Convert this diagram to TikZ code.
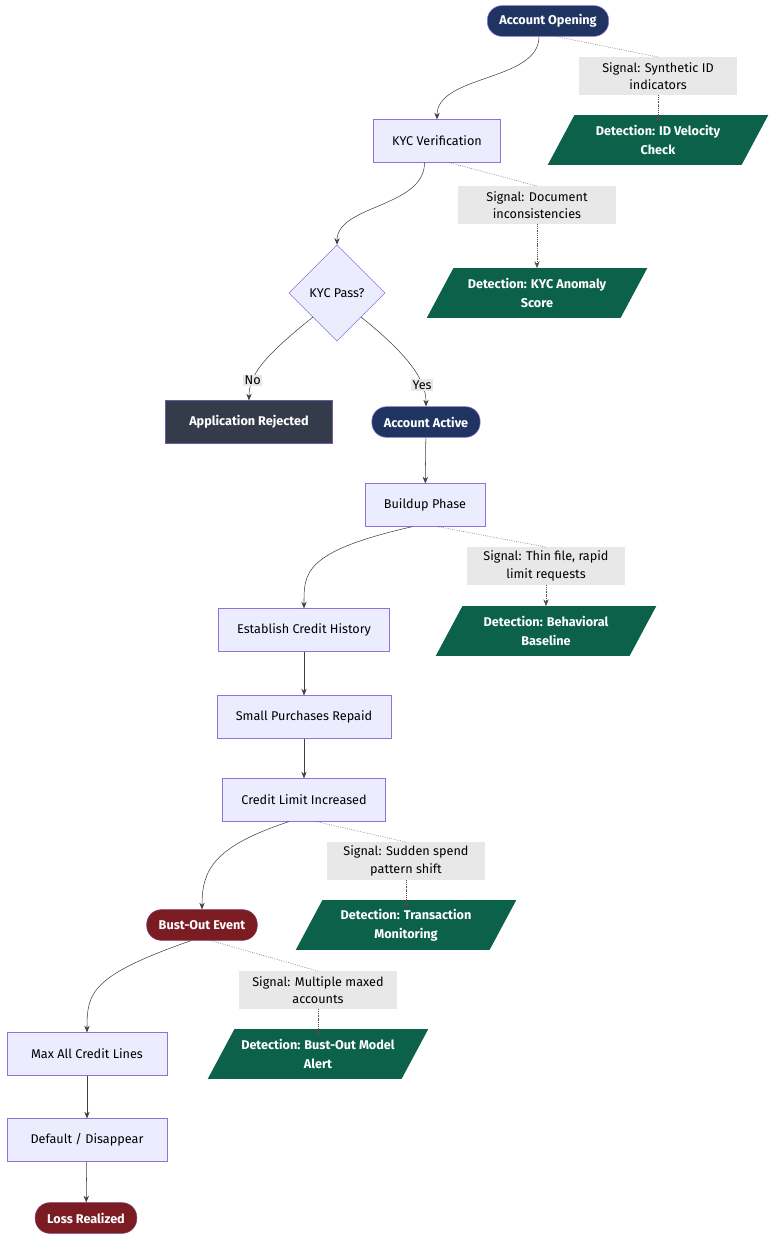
\documentclass[tikz,border=0pt]{standalone}
\usepackage{fontspec}
\setmainfont{Fira Sans}
\usetikzlibrary{shapes.geometric,calc,arrows.meta}
\definecolor{procfill}{HTML}{ECECFF}
\definecolor{procline}{HTML}{9370DB}
\definecolor{navy}{HTML}{1F3461}
\definecolor{slate}{HTML}{343C4C}
\definecolor{darkred}{HTML}{7A1C22}
\definecolor{detgreen}{HTML}{0B6149}
\definecolor{sigfill}{HTML}{E8E8E8}
\tikzset{
  every node/.style={font=\fontsize{9.5}{13}\selectfont, align=center},
  proc/.style={draw=procline, fill=procfill, minimum height=32pt, inner xsep=14pt},
  pill/.style={rounded corners=11pt, draw=procline, minimum height=23pt, inner xsep=9pt, text=white, font=\fontsize{9.5}{13}\selectfont\bfseries},
  start/.style={pill, fill=navy},
  stop/.style={pill, fill=darkred, draw=darkred!60!procline},
  reject/.style={draw=procline!60!slate, fill=slate, text=white, minimum height=32pt, inner xsep=18pt, font=\fontsize{9.5}{13}\selectfont\bfseries},
  signal/.style={fill=sigfill, minimum width=119pt, minimum height=28pt, inner sep=1pt},
  detect/.style={minimum width=145pt, minimum height=37pt, text=white, inner sep=1pt, font=\fontsize{9.5}{14}\selectfont\bfseries},
  decide/.style={diamond, draw=procline, fill=procfill, minimum width=72pt, minimum height=72pt, inner sep=0pt},
  flow/.style={draw=black!75, -{Stealth[length=5pt,width=4pt]}},
  hint/.style={draw=black!70, densely dotted},
  lbl/.style={fill=sigfill, inner sep=1pt}
}
% slanted box round a detection node
\newcommand{\slantbox}[1]{%
  \fill[detgreen] ($(#1.south west)+(-10pt,0)$) -- ($(#1.north west)+(10pt,0)$) -- ($(#1.north east)+(10pt,0)$) -- ($(#1.south east)+(-10pt,0)$) -- cycle;}
\begin{document}
\begin{tikzpicture}[x=0.75pt,y=0.75pt,yscale=-1,xscale=1]
\useasboundingbox (0,0) rectangle (784,1254);

% Main path
\node[start] (open) at (548,21) {Account Opening};
\node[proc] (kyc) at (437,141) {KYC Verification};
\node[decide] (pass) at (337,293) {KYC Pass?};
\node[reject] (rej) at (249,422) {Application Rejected};
\node[start] (active) at (426,422) {Account Active};
\node[proc] (build) at (425,505) {Buildup Phase};
\node[proc] (hist) at (304,630) {Establish Credit History};
\node[proc] (small) at (304,717) {Small Purchases Repaid};
\node[proc] (limit) at (304,800) {Credit Limit Increased};
\node[stop] (bust) at (202,925) {Bust-Out Event};
\node[proc, minimum width=120pt] (max) at (87,1054) {Max All Credit Lines};
\node[proc, minimum width=120pt] (def) at (87,1140) {Default / Disappear};
\node[stop] (loss) at (86,1218) {Loss Realized};

% Signals
\node[signal] (s1) at (658,76) {Signal: Synthetic ID\\indicators};
\node[signal] (s2) at (537,205) {Signal: Document\\inconsistencies};
\node[signal] (s3) at (546,566) {Signal: Thin file, rapid\\limit requests};
\node[signal] (s4) at (406,861) {Signal: Sudden spend\\pattern shift};
\node[signal] (s5) at (318,990) {Signal: Multiple maxed\\accounts};

% Detections
\node[detect] (d1) at (658,140) {};
\node[detect] (d2) at (537,293) {};
\node[detect] (d3) at (546,631) {};
\node[detect] (d4) at (406,925) {};
\node[detect] (d5) at (318,1054) {};
\foreach \d in {d1,d2,d3,d4,d5} {\slantbox{\d}}
\node[detect] at (d1) {Detection: ID Velocity\\Check};
\node[detect] at (d2) {Detection: KYC Anomaly\\Score};
\node[detect] at (d3) {Detection: Behavioral\\Baseline};
\node[detect] at (d4) {Detection: Transaction\\Monitoring};
\node[detect] at (d5) {Detection: Bust-Out Model\\Alert};

% Flow
\draw[flow] (open.240) .. controls +(0,45) and +(0,-45) .. (kyc.north);
\draw[flow] (kyc.240) .. controls +(0,45) and +(0,-40) .. (pass.north);
\draw[flow] (pass.225) .. controls +(-50,40) and +(0,-25) .. node[lbl, pos=0.72] {No} (rej.north);
\draw[flow] (pass.315) .. controls +(50,40) and +(0,-25) .. node[lbl, pos=0.72] {Yes} (active.north);
\draw[flow] (active) -- (build);
\draw[flow] (build.240) .. controls +(-110,25) and +(0,-35) .. (hist.north);
\draw[flow] (hist) -- (small);
\draw[flow] (small) -- (limit);
\draw[flow] (limit.235) .. controls +(-75,25) and +(0,-40) .. (bust.north);
\draw[flow] (bust.235) .. controls +(-100,35) and +(0,-40) .. (max.north);
\draw[flow] (max) -- (def);
\draw[flow] (def) -- (loss);

% Signals to detections
\draw[hint] (open.300) -- (s1.north);
\draw[hint] (kyc.300) -- (s2.north);
\draw[hint] (build.300) -- (s3.north);
\draw[hint] (limit.300) -- (s4.north);
\draw[hint] (bust.300) -- (s5.north);
\foreach \s/\d in {s1/d1,s2/d2,s3/d3,s4/d4,s5/d5}
  \draw[hint, -{Stealth[length=5pt,width=4pt]}] (\s) .. controls +(0,40) .. (\d.north);

\end{tikzpicture}
\end{document}
